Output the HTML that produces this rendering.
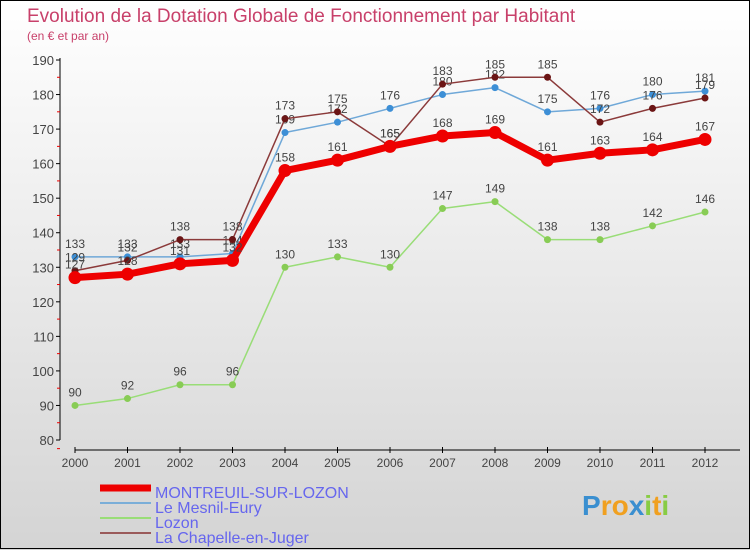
<!DOCTYPE html>
<html><head><meta charset="utf-8"><style>
body{margin:0}
#c{width:750px;height:550px;position:relative;background:linear-gradient(#fff,#d4d4d4);font-family:"Liberation Sans",sans-serif;overflow:hidden}
svg{position:absolute;left:0;top:0}
</style></head><body>
<div id="c">
<svg id="s" width="750" height="550"></svg>
</div>
<script>
const years=[2000,2001,2002,2003,2004,2005,2006,2007,2008,2009,2010,2011,2012];
const montreuil=[127,128,131,132,158,161,165,168,169,161,163,164,167];
const mesnil=[133,133,133,134,169,172,176,180,182,175,176,180,181];
const lozon=[90,92,96,96,130,133,130,147,149,138,138,142,146];
const chapelle=[129,132,138,138,173,175,165,183,185,185,172,176,179];
const yTicks=[80,90,100,110,120,130,140,150,160,170,180,190];
const NS='http://www.w3.org/2000/svg';
const s=document.getElementById('s');
function el(t,a,p){const e=document.createElementNS(NS,t);for(const k in a)e.setAttribute(k,a[k]);(p||s).appendChild(e);return e;}
const X=i=>75+52.5*i;
const Y=v=>440-(v-80)*380/110;
// border
let b=el('rect',{x:0.5,y:0.5,width:749,height:548,fill:'none',stroke:'#000','stroke-width':1});

let t=el('text',{x:27,y:22,'font-size':19,fill:'#c8406a'});t.textContent='Evolution de la Dotation Globale de Fonctionnement par Habitant';

t=el('text',{x:27,y:40,'font-size':12,fill:'#c8406a'});t.textContent='(en € et par an)';

// axes
let ax=el('line',{x1:60,y1:58,x2:60,y2:440,stroke:'#000'});

yTicks.forEach(v=>{el('line',{x1:56,y1:Y(v),x2:60,y2:Y(v),stroke:'#000'});
 let tx=el('text',{x:54,y:Y(v)+5,'font-size':13,fill:'#444','text-anchor':'end'});tx.textContent=v;
 
 if(v<190)el('line',{x1:57,y1:Y(v+5),x2:60,y2:Y(v+5),stroke:'#e00'});});
el('line',{x1:57,y1:Y(77.5)+0,x2:60,y2:Y(77.5),stroke:'#e00'});
ax=el('line',{x1:75,y1:450,x2:740,y2:450,stroke:'#000'});

years.forEach((y,i)=>{el('line',{x1:X(i),y1:447,x2:X(i),y2:453,stroke:'#000'});
 let tx=el('text',{x:X(i),y:467,'font-size':12,fill:'#444','text-anchor':'middle'});tx.textContent=y;
 });
function series(data,color,dot,w,r,name){
 const g=el('g',{});
 el('polyline',{points:data.map((v,i)=>X(i)+','+Y(v)).join(' '),fill:'none',stroke:color,'stroke-width':w,'stroke-linejoin':'round'},g);
 data.forEach((v,i)=>{const c=el('circle',{cx:X(i),cy:Y(v),r:r,fill:dot},g);
  
  const tx=el('text',{x:X(i),y:Y(v)-9,'font-size':12,fill:'#444','text-anchor':'middle'},g);tx.textContent=v;
  });
}
series(lozon,'#99dd77','#88cc55',1.5,3.5,'lozon-series');
series(mesnil,'#6fa8d8','#3d8fd6',1.5,3.5,'mesnil-series');
series(chapelle,'#8b3a3a','#6b1515',1.5,3.5,'chapelle-series');
series(montreuil,'#ee0000','#ee0000',7,6.5,'montreuil-series');
// legend
const leg=[['MONTREUIL-SUR-LOZON','#ee0000',7,493],['Le Mesnil-Eury','#7aaed8',2,508],['Lozon','#99dd77',2,523],['La Chapelle-en-Juger','#9a5a5a',2,538]];
leg.forEach(l=>{const g=el('g',{});
 el('line',{x1:100,y1:l[3]-5,x2:151,y2:l[3]-5,stroke:l[1],'stroke-width':l[2]},g);
 const tx=el('text',{x:155,y:l[3]+5,'font-size':16,fill:'#6666ee'},g);tx.textContent=l[0];});
// logo
const lg=el('text',{x:582,y:515,'font-size':28,'font-weight':'bold',fill:'#f0a020'});

[['P','#3a8fd0'],['r','#f0a020'],['o','#f0a020'],['x','#3a8fd0'],['i','#88cc44'],['t','#f0a020'],['i','#88cc44']].forEach(p=>{const ts=el('tspan',{fill:p[1]},lg);ts.textContent=p[0];});
</script>
</body></html>
